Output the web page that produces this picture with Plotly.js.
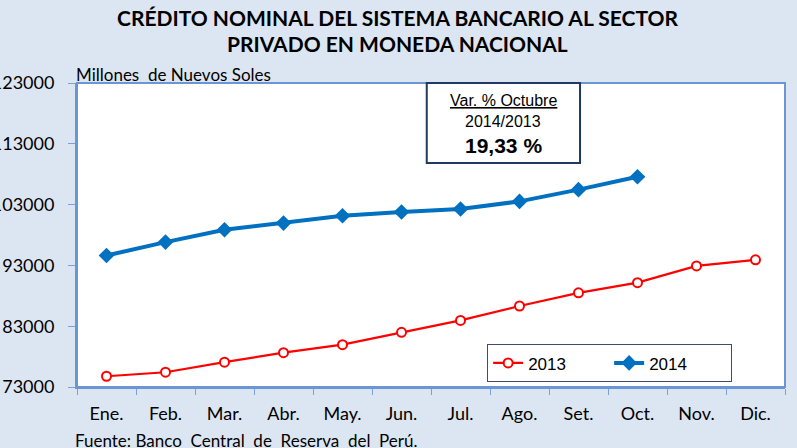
<!DOCTYPE html>
<html><head><meta charset="utf-8">
<script src="https://cdn.plot.ly/plotly-3.0.1.min.js"></script>
<style>html,body{margin:0;padding:0;background:#dce6f2;}</style>
</head><body>
<div id="chart" style="width:797px;height:448px;"></div>
<script>
const months = ["Ene.","Feb.","Mar.","Abr.","May.","Jun.","Jul.","Ago.","Set.","Oct.","Nov.","Dic."];
const credit2013 = [74770,75430,77080,78640,79960,82000,83950,86320,88490,90160,92920,93910];
const credit2014 = [94620,96830,98860,99960,101170,101780,102270,103530,105460,107590];
const yTicks = [73000,83000,93000,103000,113000,123000];

const traces = [
  {x: months, y: credit2013, name: "2013", type: "scatter", mode: "lines+markers",
   line: {color: "#ff0000", width: 2.2},
   marker: {symbol: "circle", size: 9, color: "#ffffff", line: {color: "#ff0000", width: 2}}},
  {x: months.slice(0, credit2014.length), y: credit2014, name: "2014", type: "scatter", mode: "lines+markers",
   line: {color: "#0070c0", width: 4},
   marker: {symbol: "diamond", size: 12, color: "#0070c0"}}
];

const layout = {
  width: 797, height: 448,
  paper_bgcolor: "#dce6f2", plot_bgcolor: "#ffffff",
  margin: {l: 77, r: 12, t: 83, b: 61, autoexpand: false},
  font: {family: "Lato, sans-serif", color: "#000000"},
  showlegend: true,
  legend: {orientation: "h", x: 0.579, y: 0.016, xanchor: "left", yanchor: "bottom",
    bgcolor: "#ffffff", bordercolor: "#3d4e6b", borderwidth: 1.2,
    font: {family: "Liberation Sans, Arial, sans-serif", size: 17},
    entrywidth: 76, entrywidthmode: "pixels", traceorder: "normal"},
  xaxis: {type: "category", range: [-0.5, 11.5], tickson: "boundaries", ticks: "outside",
    ticklen: 6, tickcolor: "#7aa0d4", showline: true, linecolor: "#6b96d6", linewidth: 2,
    showgrid: false, zeroline: false, ticklabelstandoff: 9,
    tickfont: {size: 18, family: "Lato, sans-serif"},
    fixedrange: true, automargin: false},
  yaxis: {range: [73000, 123000], tickvals: yTicks, ticktext: yTicks.map(String),
    ticks: "outside", ticklen: 7, tickcolor: "#7aa0d4", showline: true, linecolor: "#6b96d6",
    linewidth: 2, showgrid: false, zeroline: false, ticklabelstandoff: 10,
    tickfont: {size: 18, family: "Lato, sans-serif"}, fixedrange: true, automargin: false},
  shapes: [
    {type: "rect", xref: "paper", yref: "paper", x0: 0, x1: 1, y0: 0, y1: 1,
     line: {color: "#6b96d6", width: 2}, fillcolor: "rgba(0,0,0,0)"},
    {type: "rect", xref: "paper", yref: "paper", x0: 0.494, x1: 0.7105, y0: 0.737, y1: 1.0,
     line: {color: "#1f3864", width: 2}, fillcolor: "#ffffff"}
  ],
  annotations: [
    {xref: "paper", yref: "paper", x: 0.602, y: 0.944, xanchor: "center", yanchor: "middle",
     text: "<u>Var. % Octubre</u>", showarrow: false,
     font: {family: "Liberation Sans, Arial, sans-serif", size: 16}},
    {xref: "paper", yref: "paper", x: 0.602, y: 0.875, xanchor: "center", yanchor: "middle",
     text: "2014/2013", showarrow: false,
     font: {family: "Liberation Sans, Arial, sans-serif", size: 16}},
    {xref: "paper", yref: "paper", x: 0.602, y: 0.793, xanchor: "center", yanchor: "middle",
     text: "<b>19,33 %</b>", showarrow: false,
     font: {family: "Liberation Sans, Arial, sans-serif", size: 21}},
    {xref: "paper", yref: "paper", x: -0.004, y: 1.0, xanchor: "left", yanchor: "bottom",
     yshift: -4,
     text: "Millones  de Nuevos Soles", showarrow: false,
     font: {family: "Lato, sans-serif", size: 17}},
    {xref: "paper", yref: "paper", x: -0.005, y: -0.175, xanchor: "left", yanchor: "middle",
     text: "Fuente: Banco&nbsp; Central&nbsp; de&nbsp; Reserva&nbsp; del&nbsp; Perú.", showarrow: false,
     font: {family: "Lato, sans-serif", size: 17}},
    {xref: "paper", yref: "paper", x: 0.453, y: (387 - 18) / 304, xanchor: "center", yanchor: "middle",
     text: "<b>CRÉDITO NOMINAL DEL SISTEMA BANCARIO AL SECTOR</b>", showarrow: false,
     font: {family: "Lato, sans-serif", size: 21}},
    {xref: "paper", yref: "paper", x: 0.453, y: (387 - 43) / 304, xanchor: "center", yanchor: "middle",
     text: "<b>PRIVADO EN MONEDA NACIONAL</b>", showarrow: false,
     font: {family: "Lato, sans-serif", size: 21}}
  ]
};
Plotly.newPlot("chart", traces, layout, {displayModeBar: false, staticPlot: true});
</script>
</body></html>
